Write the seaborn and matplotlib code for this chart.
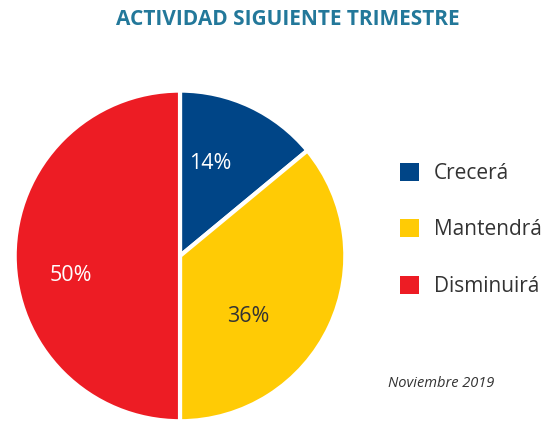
import matplotlib.pyplot as plt
import seaborn as sns
from matplotlib.patches import Patch

categories = ['Crecerá', 'Mantendrá', 'Disminuirá']
values = [14, 36, 50]
colors = ['#004587', '#FFCB05', '#ED1C24']
title = 'ACTIVIDAD SIGUIENTE TRIMESTRE'
note = 'Noviembre 2019'

sns.set_theme(style='white')
plt.rcParams['font.family'] = ['Open Sans', 'DejaVu Sans']

fig = plt.figure(figsize=(5.52, 4.23), dpi=100)
ax = fig.add_axes([0.0236, 0.0, 0.605, 0.79])

wedges, texts, autotexts = ax.pie(
    values, colors=colors, startangle=90, counterclock=False,
    autopct='%d%%', pctdistance=0.62,
    wedgeprops=dict(edgecolor='white', linewidth=3),
    textprops=dict(color='white', fontsize=15.5))
autotexts[1].set_color('#333333')

# nudge the percentage labels towards where the original puts them
shifts = [(-0.08, 0.0), (-0.15, -0.1), (-0.04, -0.12)]
for t, (dx, dy) in zip(autotexts, shifts):
    x, y = t.get_position()
    t.set_position((x + dx, y + dy))
    t.set_zorder(5)

ax.set_xlim(-1.01, 1.01)
ax.set_ylim(-1.01, 1.01)
ax.set_aspect('equal')

fig.text(0.522, 0.955, title, ha='center', va='center', fontsize=15,
         fontweight='bold', color='#23789A')

handles = [Patch(facecolor=c, edgecolor='none') for c in colors]
fig.legend(handles, categories, loc='upper left', bbox_to_anchor=(0.69, 0.66),
           frameon=False, fontsize=15, handlelength=0.95, handleheight=0.95,
           handletextpad=0.7, labelspacing=1.7, labelcolor='#333333')

fig.text(0.703, 0.094, note, ha='left', va='center', fontsize=10.5,
         style='italic', color='#333333')

fig.savefig('out.png', dpi=100)
